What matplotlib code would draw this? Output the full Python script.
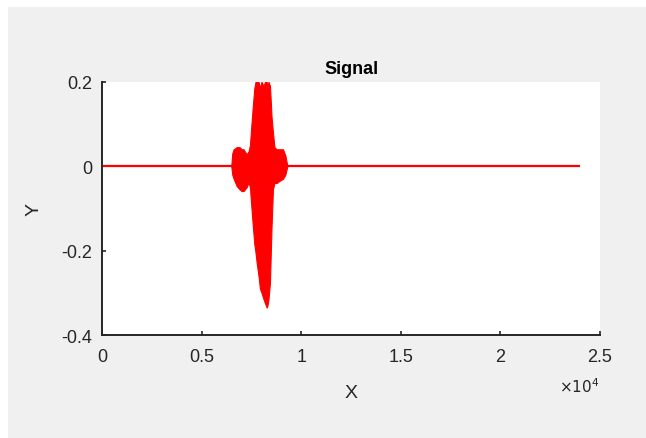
import matplotlib.pyplot as plt
from matplotlib.patches import Rectangle

plt.rcParams['font.family'] = ['Liberation Sans', 'DejaVu Sans']

# signal length (flat zero outside the burst)
n_samples = 24000

# burst envelope (sample index, upper, lower)
burst_x = [6480, 6530, 6600, 6750, 6900, 7000, 7100, 7250, 7350, 7420,
           7480, 7560, 7640, 7700, 7760, 7850, 7920, 8000, 8100, 8180,
           8260, 8300, 8350, 8425, 8470, 8500, 8574, 8650, 8760, 8900,
           9080, 9200, 9300]
burst_hi = [0.0, 0.03, 0.04, 0.045, 0.045, 0.04, 0.04, 0.028, 0.035, 0.05,
            0.09, 0.14, 0.185, 0.2, 0.2, 0.2, 0.185, 0.2, 0.19, 0.2,
            0.2, 0.185, 0.2, 0.19, 0.15, 0.12, 0.08, 0.045, 0.04, 0.04,
            0.04, 0.025, 0.0]
burst_lo = [0.0, -0.02, -0.03, -0.047, -0.055, -0.059, -0.059, -0.05, -0.039, -0.05,
            -0.09, -0.14, -0.185, -0.205, -0.23, -0.26, -0.29, -0.3, -0.315, -0.325,
            -0.335, -0.33, -0.316, -0.276, -0.2, -0.15, -0.055, -0.04, -0.04, -0.035,
            -0.03, -0.02, 0.0]

xtick_vals = [0, 5000, 10000, 15000, 20000, 25000]
xtick_labels = ['0', '0.5', '1', '1.5', '2', '2.5']
ytick_vals = [-0.4, -0.2, 0, 0.2]
ytick_labels = ['-0.4', '-0.2', '0', '0.2']

fig = plt.figure(figsize=(6.46, 4.39), dpi=100)
fig.patch.set_facecolor('white')
fig.patches.append(Rectangle((8 / 646, 0), 1, 1 - 8 / 439, transform=fig.transFigure,
                             facecolor='#f0f0f0', edgecolor='none', zorder=-10))

ax = fig.add_axes([0.1584, 0.2346, 0.7700, 0.5770])
red = '#ff0000'
ax.plot([0, n_samples], [0, 0], color=red, lw=1.6, solid_capstyle='butt')
ax.fill_between(burst_x, burst_lo, burst_hi, color=red, lw=0.8, edgecolor=red)

ax.set_xlim(0, 25000)
ax.set_ylim(-0.4, 0.2)
ax.set_xticks(xtick_vals)
ax.set_xticklabels(xtick_labels)
ax.set_yticks(ytick_vals)
ax.set_yticklabels(ytick_labels)

dark = '#262626'
for side in ['top', 'right']:
    ax.spines[side].set_visible(False)
for side in ['left', 'bottom']:
    ax.spines[side].set_color(dark)
    ax.spines[side].set_linewidth(1.4)
ax.tick_params(direction='in', length=3, width=1.2, colors=dark,
               labelsize=13)
ax.tick_params(axis='x', pad=9)
ax.tick_params(axis='y', pad=7)

ax.set_title('Signal', fontsize=13, fontweight='bold', color='black', pad=6)
ax.set_xlabel('X', fontsize=14, color=dark, labelpad=14)
ax.set_ylabel('Y', fontsize=14, color=dark, labelpad=14)
ax.text(1.0, -0.2, r'$\times10^{4}$', transform=ax.transAxes, ha='right',
        va='center', fontsize=11, color=dark)

fig.savefig('out.png', dpi=100, facecolor=fig.get_facecolor())
